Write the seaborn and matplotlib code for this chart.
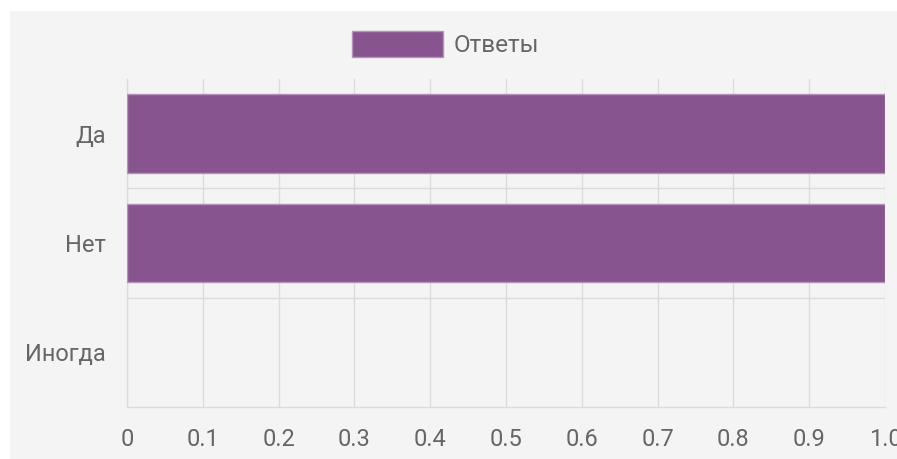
import matplotlib
matplotlib.use("Agg")
import matplotlib.pyplot as plt
import seaborn as sns
import numpy as np
from matplotlib.patches import Rectangle, Patch

categories = ["Да", "Нет", "Иногда"]
values = [1, 1, 0]
series_name = "Ответы"
x_ticks = [0, 0.1, 0.2, 0.3, 0.4, 0.5, 0.6, 0.7, 0.8, 0.9, 1.0]
x_tick_labels = ["0", "0.1", "0.2", "0.3", "0.4", "0.5", "0.6", "0.7", "0.8", "0.9", "1.0"]

bar_color = "#87548f"
edge_color = "#b592ba"
grid_color = "#dcdcdc"
text_color = "#666666"
bg_color = "#f4f4f4"

sns.set_style("white")
plt.rcParams["font.family"] = ["Roboto", "DejaVu Sans"]

fig = plt.figure(figsize=(8.97, 4.59), dpi=100)
fig.patch.set_facecolor("white")
fig.patches.append(Rectangle((10 / 897, 0), 1, 1 - 11 / 459, transform=fig.transFigure,
                             facecolor=bg_color, edgecolor="none", zorder=-10))

ax = fig.add_axes([127 / 897, 52 / 459, 758 / 897, 328 / 459])
ax.set_facecolor(bg_color)

sns.barplot(x=values, y=categories, orient="h", color=bar_color, width=0.72,
            edgecolor=edge_color, linewidth=1, saturation=1, ax=ax, zorder=3)
# empty bars should leave no sliver on the axis
for bar in ax.patches:
    if bar.get_width() == 0:
        bar.set_linewidth(0)

ax.set_xlim(0, 1.0)
ax.set_ylim(2.5, -0.5)
ax.set_xticks(x_ticks)
ax.set_xticklabels(x_tick_labels)
ax.set_yticks([0, 1, 2])
ax.set_yticklabels(categories)
ax.set_yticks([0.5, 1.5], minor=True)
ax.set_xlabel("")
ax.set_ylabel("")

ax.grid(axis="x", which="major", color=grid_color, linewidth=1, zorder=0)
ax.grid(axis="y", which="minor", color=grid_color, linewidth=1, zorder=0)
ax.grid(axis="y", which="major", visible=False)

ax.tick_params(axis="x", which="major", length=9.4, width=1, color=grid_color,
               labelsize=17, labelcolor=text_color, pad=6)
ax.tick_params(axis="y", which="major", length=0, labelsize=17,
               labelcolor=text_color, pad=15)
ax.tick_params(axis="y", which="minor", length=15, width=1, color=grid_color)

for side in ["top", "right"]:
    ax.spines[side].set_visible(False)
for side in ["left", "bottom"]:
    ax.spines[side].set_color(grid_color)
    ax.spines[side].set_linewidth(1)

handle = Patch(facecolor=bar_color, edgecolor=edge_color, linewidth=1)
fig.legend([handle], [series_name], loc="center", bbox_to_anchor=(0.497, 1 - 44 / 459),
           frameon=False, fontsize=17.5, labelcolor=text_color,
           handlelength=3.75, handleheight=1.32, handletextpad=0.45)

fig.savefig("out.png", dpi=100)
